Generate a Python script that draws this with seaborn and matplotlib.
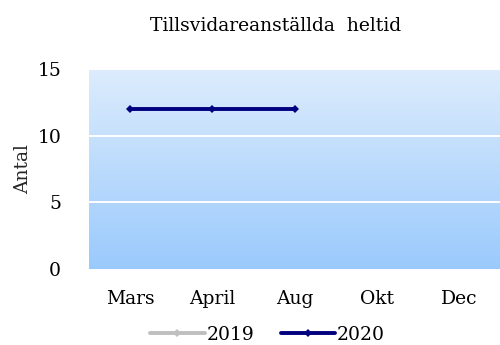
import numpy as np
import pandas as pd
import matplotlib
matplotlib.use("Agg")
import matplotlib.pyplot as plt
from matplotlib.colors import LinearSegmentedColormap
from matplotlib.lines import Line2D
import seaborn as sns

months = ["Mars", "April", "Aug", "Okt", "Dec"]
years = ["2019", "2020"]
values_2019 = [np.nan, np.nan, np.nan, np.nan, np.nan]
values_2020 = [12, 12, 12, np.nan, np.nan]
y_ticks = [0, 5, 10, 15]

sns.set_theme(style="white")
plt.rcParams["font.family"] = ["DejaVu Serif"]
plt.rcParams["text.color"] = "black"
plt.rcParams["xtick.color"] = "black"
plt.rcParams["ytick.color"] = "black"

df = pd.DataFrame({
    "pos": list(range(len(months))) * 2,
    "Antal": values_2019 + values_2020,
    "year": ["2019"] * len(months) + ["2020"] * len(months),
})

colors = {"2019": "#BFBFBF", "2020": "#000080"}

fig = plt.figure(figsize=(5.0, 3.45), dpi=100)
ax = fig.add_axes([0.178, 0.22, 0.822, 0.58])

# vertical gradient fill behind the plot area
grad = LinearSegmentedColormap.from_list("bg", ["#9ACAFC", "#DDECFD"])
ax.imshow(np.linspace(0, 1, 256).reshape(-1, 1), aspect="auto", cmap=grad,
          origin="lower", extent=(-0.5, 4.5, 0, 15), zorder=0)

for y in y_ticks[1:]:
    ax.axhline(y, color="white", lw=1.4, zorder=1)

sns.lineplot(data=df, x="pos", y="Antal", hue="year", palette=colors,
             marker="D", markersize=4.5, markeredgewidth=0, linewidth=2.8,
             ax=ax, legend=False, zorder=3)

ax.set_xlim(-0.5, 4.5)
ax.set_ylim(0, 15)
ax.set_yticks(y_ticks)
ax.set_xticks(range(len(months)))
ax.set_xticklabels(months)
ax.tick_params(axis="x", length=0, pad=15, labelsize=13.5)
ax.tick_params(axis="y", length=0, pad=20, labelsize=13.5)
ax.set_xlabel("")
ax.set_ylabel("Antal", fontsize=13.5, labelpad=4)
for s in ax.spines.values():
    s.set_visible(False)

fig.text(0.552, 0.925, "Tillsvidareanställda  heltid", ha="center",
         va="center", fontsize=13.5)

handles = [Line2D([], [], color=colors[y], lw=2.8, marker="D", markersize=4.5,
                  markeredgewidth=0)
           for y in years]
fig.legend(handles, years, loc="center", bbox_to_anchor=(0.535, 0.03),
           ncol=2, frameon=False, fontsize=13.5, handlelength=2.9,
           handletextpad=0.1, columnspacing=1.4)

fig.savefig("out.png", dpi=100)
